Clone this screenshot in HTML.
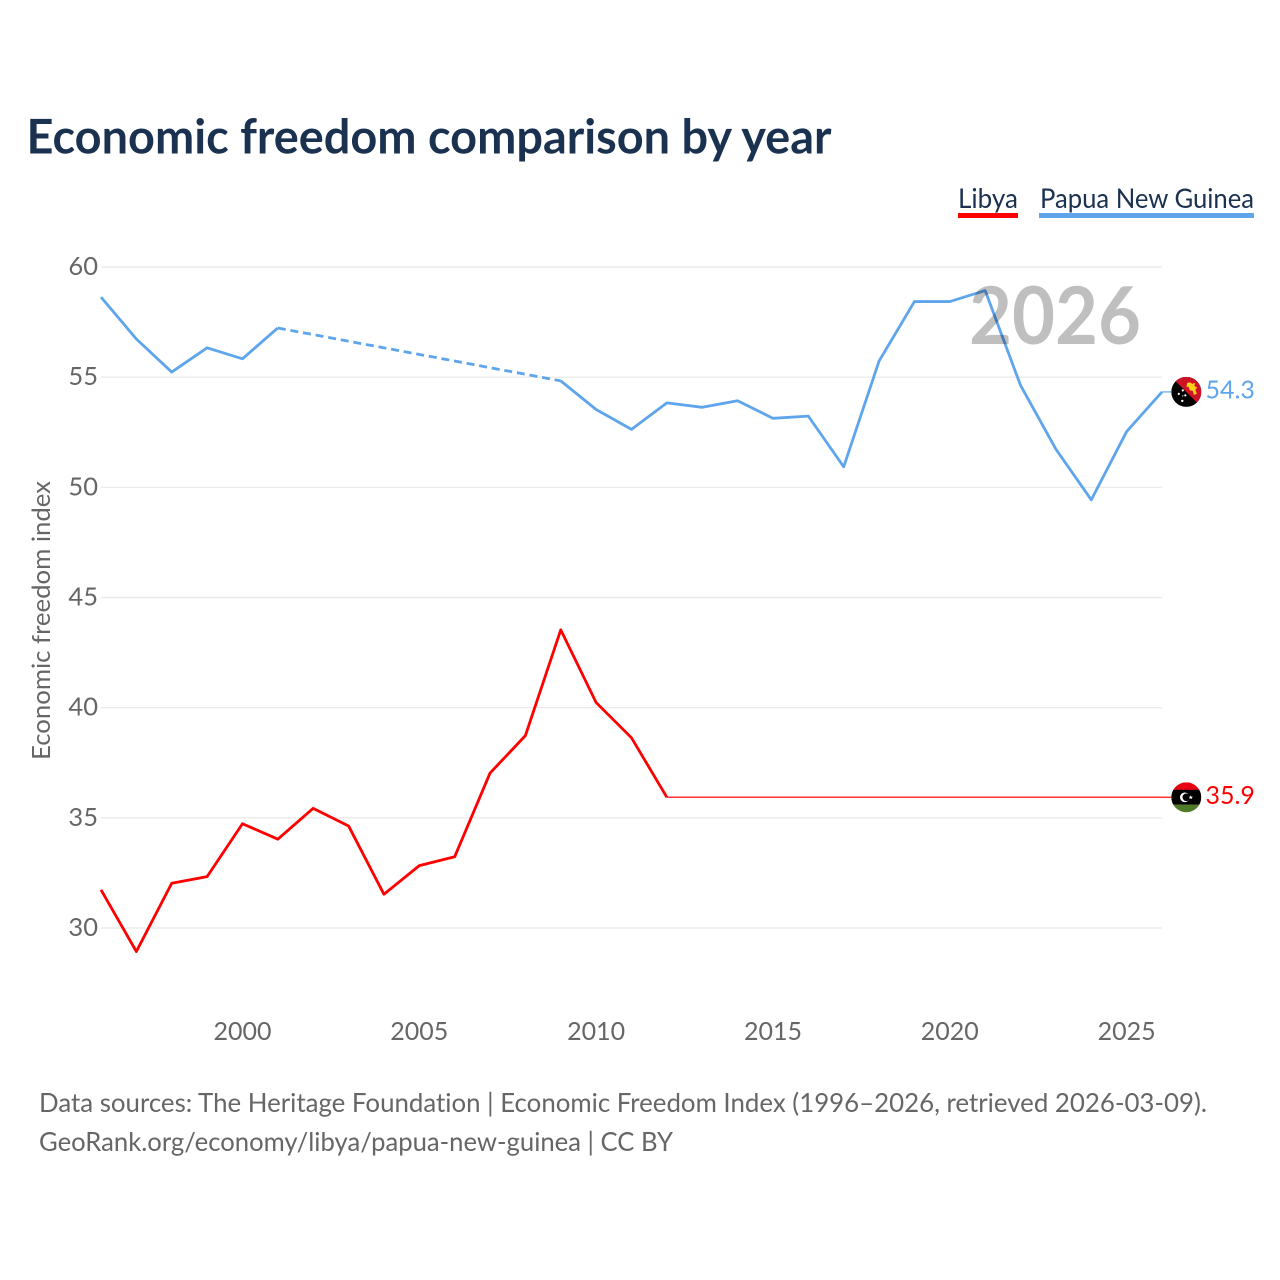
<!DOCTYPE html>
<html lang="en">
<head>
<meta charset="utf-8">
<title>Economic freedom comparison by year</title>
<style>
html,body{margin:0;padding:0;background:#fff;width:1280px;height:1280px;overflow:hidden}
svg{display:block;font-family:"Lato","Liberation Sans",sans-serif;font-variant-ligatures:none;font-feature-settings:"liga" 0}
</style>
</head>
<body>
<svg id="chart" xmlns="http://www.w3.org/2000/svg" width="1280" height="1280" viewBox="0 0 1280 1280">
  <rect x="0" y="0" width="1280" height="1280" fill="#ffffff"/>
  <text x="26.5" y="153.6" font-size="47.5" font-weight="700" fill="#1a3150" textLength="805" lengthAdjust="spacingAndGlyphs">Economic freedom comparison by year</text>

  <g>
    <g>
      <text x="958" y="208" font-size="27" fill="#1a3150" textLength="60" lengthAdjust="spacingAndGlyphs">Libya</text>
      <rect x="958" y="213" width="60" height="5" fill="#ff0000"/>
    </g>
    <g>
      <text x="1040" y="208" font-size="27" fill="#1a3150" textLength="214" lengthAdjust="spacingAndGlyphs">Papua New Guinea</text>
      <rect x="1039" y="213" width="215" height="5" fill="#5ea5ec"/>
    </g>
  </g>

  <g id="grid"></g>
  <g id="yticks"></g>
  <g id="xticks"></g>
  <text transform="translate(50,760) rotate(-90)" x="0" y="0" font-size="25.5" fill="#666666" textLength="279" lengthAdjust="spacingAndGlyphs">Economic freedom index</text>
  <g id="series"></g>

  <text x="969" y="344" font-size="80" font-weight="700" fill="#000000" fill-opacity="0.25" textLength="172" lengthAdjust="spacingAndGlyphs">2026</text>

  <g id="flag-png">
    <clipPath id="clip-png"><circle cx="0" cy="0" r="15"/></clipPath>
    <g clip-path="url(#clip-png)">
      <rect x="-15" y="-15" width="30" height="30" fill="#000000"/>
      <polygon points="-15,-15 15,-15 15,15" fill="#ce1126"/>
      <path d="M1,-9 L4,-9.5 L6,-8 L9,-9 L8,-6 L11,-4 L9,-2.5 L10.5,2 L7.5,3 L6.5,-1 L3.5,-1.5 L2.5,-4.5 L0,-5.5 Z" fill="#fcd116"/>
      <g fill="#ffffff">
        <circle cx="-7.5" cy="2" r="1.1"/><circle cx="-3.5" cy="-1.5" r="1.1"/><circle cx="-1" cy="3.5" r="1.1"/>
        <circle cx="-4" cy="9" r="1.2"/><circle cx="-3.5" cy="4" r=".6"/>
      </g>
    </g>
  </g>
  <g id="flag-lby">
    <clipPath id="clip-lby"><circle cx="0" cy="0" r="15"/></clipPath>
    <g clip-path="url(#clip-lby)">
      <rect x="-15" y="-15" width="30" height="8" fill="#e70013"/>
      <rect x="-15" y="-7.5" width="30" height="15" fill="#000000"/>
      <rect x="-15" y="7.5" width="30" height="8" fill="#4f7a28"/>
      <circle cx="-1.5" cy="0" r="4.8" fill="#ffffff"/>
      <circle cx="0" cy="0" r="3.8" fill="#000000"/>
      <polygon points="4.5,-2.2 5.1,-.6 6.8,-.6 5.4,.4 6,2 4.5,1 3,2 3.6,.4 2.2,-.6 3.9,-.6" fill="#ffffff"/>
    </g>
  </g>
  <g id="endlabels"></g>

  <g>
    <text x="39" y="1112" font-size="26.5" fill="#666666" textLength="1168" lengthAdjust="spacingAndGlyphs">Data sources: The Heritage Foundation | Economic Freedom Index (1996–2026, retrieved 2026-03-09).</text>
    <text x="39" y="1151" font-size="26.5" fill="#666666" textLength="634" lengthAdjust="spacingAndGlyphs">GeoRank.org/economy/libya/papua-new-guinea | CC BY</text>
  </g>
</svg>
<script>
const years = [1996,1997,1998,1999,2000,2001,2002,2003,2004,2005,2006,2007,2008,2009,2010,2011,2012,2013,2014,2015,2016,2017,2018,2019,2020,2021,2022,2023,2024,2025,2026];
const libyaValues = [31.7,28.9,32.0,32.3,34.7,34.0,35.4,34.6,31.5,32.8,33.2,37.0,38.7,43.5,40.2,38.6,35.9,35.9,35.9,35.9,35.9,35.9,35.9,35.9,35.9,35.9,35.9,35.9,35.9,35.9,35.9];
const pngValues = [58.6,56.7,55.2,56.3,55.8,57.2,null,null,null,null,null,null,null,54.8,53.5,52.6,53.8,53.6,53.9,53.1,53.2,50.9,55.7,58.4,58.4,58.9,54.6,51.7,49.4,52.5,54.3];
const yTickValues = [30,35,40,45,50,55,60];
const xTickValues = [2000,2005,2010,2015,2020,2025];

const NS = 'http://www.w3.org/2000/svg';
const plot = {left:101, right:1162, top:267, bottom:928};
const markShift = -0.7;
function xScale(year){
  return plot.left + (year - years[0]) / (years[years.length-1] - years[0]) * (plot.right - plot.left);
}
function yScale(v){
  return plot.bottom - (v - 30) / (60 - 30) * (plot.bottom - plot.top);
}
function make(tag, parent, attrs){
  const el = document.createElementNS(NS, tag);
  for (const k in attrs) el.setAttribute(k, attrs[k]);
  parent.appendChild(el);
  return el;
}

const grid = document.getElementById('grid');
const yticks = document.getElementById('yticks');
yTickValues.forEach(function(v){
  const line = make('line', grid, {x1:plot.left, x2:plot.right, y1:yScale(v), y2:yScale(v), stroke:'#ebebeb', 'stroke-width':1.4});
  
  
  const t = make('text', yticks, {x:98, y:yScale(v)+8, 'text-anchor':'end', 'font-size':25.5, fill:'#666666'});
  t.textContent = String(v);
  
  
});

const xticks = document.getElementById('xticks');
xTickValues.forEach(function(v){
  const t = make('text', xticks, {x:xScale(v), y:1040, 'text-anchor':'middle', 'font-size':25, fill:'#666666'});
  t.textContent = String(v);
  
  
});

const seriesGroup = document.getElementById('series');
function drawSeries(values, color, key){
  let tailStart = values.length - 1;
  while (tailStart > 0 && values[tailStart-1] === values[values.length-1]) tailStart--;
  let run = [];
  let lastPoint = null;
  function flush(){
    if (run.length > 1) {
      const p = make('polyline', seriesGroup, {points:run.join(' '), fill:'none', stroke:color, 'stroke-width':2.8, 'stroke-linejoin':'round'});
      
      
    }
    run = [];
  }
  values.forEach(function(v, i){
    if (v === null) { flush(); return; }
    const px = xScale(years[i]);
    const py = yScale(v) + markShift;
    if (lastPoint && lastPoint.i !== i - 1) {
      const d = make('line', seriesGroup, {x1:lastPoint.x, y1:lastPoint.y, x2:px, y2:py, stroke:color, 'stroke-width':2.8, 'stroke-dasharray':'8 4.8'});
      
      
    }
    if (i <= tailStart || tailStart === values.length - 1) {
      run.push(px.toFixed(2) + ',' + py.toFixed(2));
    }
    lastPoint = {i:i, x:px, y:py};
  });
  flush();
  if (tailStart < values.length - 1) {
    const y = yScale(values[tailStart]) + markShift;
    const flat = make('line', seriesGroup, {x1:xScale(years[tailStart]), x2:plot.right, y1:y, y2:y, stroke:color, 'stroke-width':1.5, 'stroke-opacity':0.8});
    
    
  }
}
drawSeries(pngValues, '#5ea5ec', 'papua-new-guinea');
drawSeries(libyaValues, '#ff0000', 'libya');

const endLabels = document.getElementById('endlabels');
function endMark(values, color, key, flagId){
  const v = values[values.length-1];
  const y = yScale(v) + markShift;
  const c = make('line', seriesGroup, {x1:plot.right, x2:plot.right+10, y1:y, y2:y, stroke:color, 'stroke-width':1.5, 'stroke-opacity':0.8});
  
  
  document.getElementById(flagId).setAttribute('transform', 'translate(1186.3,' + y + ')');
  const t = make('text', endLabels, {x:1205.5, y:y+6.5, 'font-size':25, fill:color});
  t.textContent = v.toFixed(1);
  
  
}
endMark(pngValues, '#5ea5ec', 'papua-new-guinea', 'flag-png');
endMark(libyaValues, '#ff0000', 'libya', 'flag-lby');
</script>
</body>
</html>
